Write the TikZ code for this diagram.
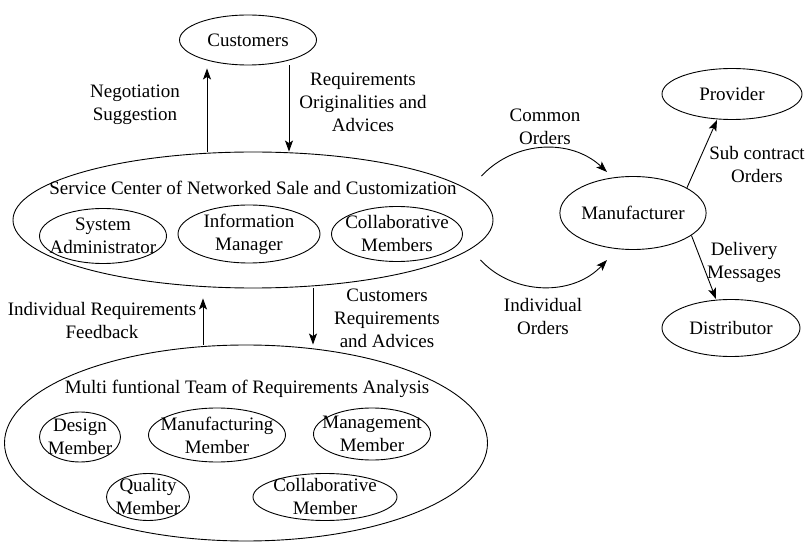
\documentclass[tikz,border=0pt]{standalone}
\usepackage{fontspec}
\setmainfont{Liberation Serif}
\usetikzlibrary{arrows.meta,shapes.geometric}
\tikzset{
  oval/.style={draw,ellipse,inner sep=0pt},
  txt/.style={align=center,inner sep=0pt},
}

\begin{document}
\begin{tikzpicture}[x=1pt,y=-1pt,font=\fontsize{19}{23}\selectfont,line width=0.9pt,>={Stealth[length=11pt,width=8pt,inset=2.5pt]}]
  \useasboundingbox (0,0) rectangle (809,545);
  \node[oval,minimum width=137,minimum height=50] (cust) at (248,40) {Customers};
  \node[oval,minimum width=480,minimum height=136] (svc) at (253,220) {};
  \node[oval,minimum width=483,minimum height=196] (team) at (246,443) {};
  \node[oval,minimum width=139,minimum height=73] (mfr) at (633,213) {Manufacturer};
  \node[oval,minimum width=140,minimum height=51] (prov) at (732,94) {Provider};
  \node[oval,minimum width=138,minimum height=57] (dist) at (731,328) {Distributor};

  \node[txt] (svctitle) at (253,188) {Service Center of Networked Sale and Customization};
  \node[txt] (teamtitle) at (247,389) {Multi funtional Team of Requirements Analysis};
  \foreach \n/\x/\y/\w/\h/\t in {
      sysadm/103/236/127/55/{System\\Administrator},
      infomgr/249/234/142/58/{Information\\Manager},
      collab/397/234/131/55/{Collaborative\\Members},
      design/80/437/81/50/{Design\\Member},
      manuf/217/435/137/54/{Manufacturing\\Member},
      mgmt/372/434/117/52/{Management\\Member},
      quality/148/497/83/47/{Quality\\Member},
      collabm/325/497/144/47/{Collaborative\\Member}}{
    \node[txt] (\n) at (\x,\y) {\t};
    \draw (\n.center) ellipse [x radius=\w pt/2, y radius=\h pt/2];
  }

  \draw[->,shorten >=3pt] ([xshift=-46pt]svc.north) -- ([xshift=-41pt]cust.south);
  \draw[->] ([xshift=41pt]cust.south) -- ([xshift=36pt]svc.north);
  \draw[->,shorten >=10pt] ([xshift=-43pt]team.north) -- ([xshift=-50pt]svc.south);
  \draw[->] ([xshift=60pt]svc.south) -- ([xshift=67pt]team.north);
  \draw[->] ([shift={(-12,-44)}]svc.east) to[bend left=45] ([shift={(-26,-41)}]mfr.center);
  \draw[->] ([shift={(-13,40)}]svc.east) to[bend right=47] ([shift={(-26,47)}]mfr.center);
  \draw[->] (mfr.25) -- ([xshift=-15pt]prov.south);
  \draw[->] (mfr.-21) -- ([xshift=-15pt]dist.north);

  \node[txt] (negl) at (135,105) {Negotiation\\Suggestion};
  \node[txt] (reql) at (363,102) {Requirements\\Originalities and\\Advices};
  \node[txt] (feedl) at (102,321) {Individual Requirements\\Feedback};
  \node[txt] (advl) at (387,318) {Customers\\Requirements\\and Advices};
  \node[txt] (coml) at (545,127) {Common\\Orders};
  \node[txt] (indl) at (543,317) {Individual\\Orders};
  \node[txt] (subl) at (757,165) {Sub contract\\Orders};
  \node[txt] (dell) at (744,262) {Delivery\\Messages};
\end{tikzpicture}
\end{document}
